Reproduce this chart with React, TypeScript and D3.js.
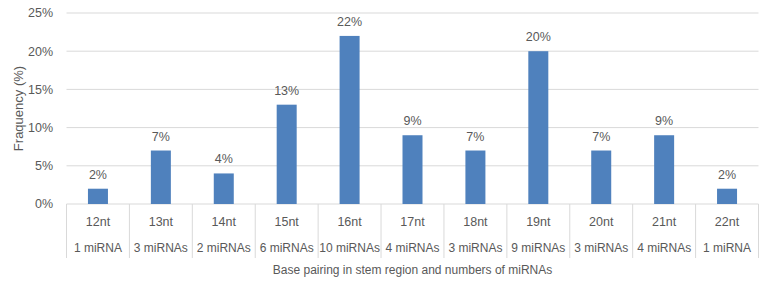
import React from 'react';
import * as d3 from 'd3';

const lengths = ['12nt', '13nt', '14nt', '15nt', '16nt', '17nt', '18nt', '19nt', '20nt', '21nt', '22nt'];
const counts = ['1 miRNA', '3 miRNAs', '2 miRNAs', '6 miRNAs', '10 miRNAs', '4 miRNAs', '3 miRNAs', '9 miRNAs', '3 miRNAs', '4 miRNAs', '1 miRNA'];
const frequency = [2, 7, 4, 13, 22, 9, 7, 20, 7, 9, 2];
const yTicks = [0, 5, 10, 15, 20, 25];

const width = 769;
const height = 290;
const left = 66.5;
const right = 758.5;
const top = 13;
const bottom = 204;
const font = '"Liberation Sans", Arial, sans-serif';
const textColor = '#595959';

export default function App() {
  const x = d3.scaleBand<string>().domain(lengths).range([left, right]);
  const y = d3.scaleLinear().domain([0, 25]).range([bottom, top]);
  const barW = 20;

  return (
    <svg width={width} height={height} style={{ position: 'absolute', left: 0, top: 0 }} fontFamily={font}>
      <rect width={width} height={height} fill="#fff" />
      {yTicks.map(t => (
        <g key={t}>
          <line x1={left} x2={right} y1={y(t)} y2={y(t)} stroke="#d9d9d9" strokeWidth={1} />
          <text x={53} y={y(t)} dy="0.35em" textAnchor="end" fontSize={12.5} fill={textColor}>{t}%</text>
        </g>
      ))}
      {d3.range(lengths.length + 1).map(i => {
        const xx = left + i * x.step();
        return <line key={i} x1={xx} x2={xx} y1={bottom} y2={258} stroke="#d9d9d9" strokeWidth={1} />;
      })}
      {lengths.map((c, i) => {
        const cx = (x(c) as number) + x.bandwidth() / 2;
        return (
          <g key={c}>
            <rect x={cx - barW / 2} y={y(frequency[i])} width={barW} height={bottom - y(frequency[i])} fill="#4f81bd" />
            <text x={cx} y={y(frequency[i]) - 10} textAnchor="middle" fontSize={12.5} fill={textColor}>{frequency[i]}%</text>
            <text x={cx} y={222} dy="0.35em" textAnchor="middle" fontSize={12.5} fill={textColor}>{c}</text>
            <text x={cx} y={248} dy="0.35em" textAnchor="middle" fontSize={12} fill={textColor}>{counts[i]}</text>
          </g>
        );
      })}
      <text x={(left + right) / 2} y={270} dy="0.35em" textAnchor="middle" fontSize={12} fill={textColor}>
        Base pairing in stem region and numbers of miRNAs
      </text>
      <text transform={`translate(18,${(top + bottom) / 2}) rotate(-90)`} dy="0.35em" textAnchor="middle" fontSize={13} fill={textColor}>
        Fraquency (%)
      </text>
    </svg>
  );
}
